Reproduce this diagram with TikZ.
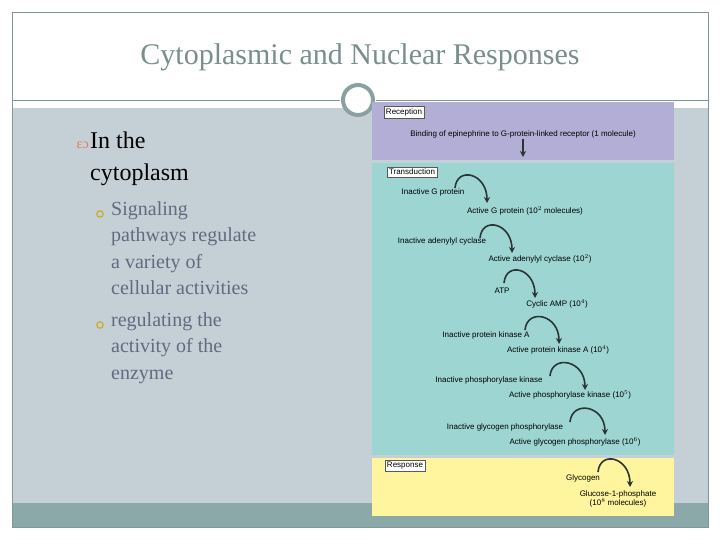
\documentclass[tikz,border=0pt]{standalone}
\usepackage{fontspec}
\setmainfont{Liberation Serif}
\newfontfamily\panelfont{Liberation Sans}
\usetikzlibrary{arrows.meta}
\usetikzlibrary{calc}
\definecolor{slidebg}{HTML}{C5D0D6}
\definecolor{bandc}{HTML}{8BA9A9}
\definecolor{framec}{HTML}{7E9797}
\definecolor{titlec}{HTML}{7B8E8E}
\definecolor{recc}{HTML}{B3AED6}
\definecolor{tranc}{HTML}{9DD5D3}
\definecolor{respc}{HTML}{FFF59E}
\definecolor{subc}{HTML}{5F6B80}
\definecolor{bulc}{HTML}{C8B030}
\definecolor{arrc}{HTML}{2A3535}
\begin{document}
\begin{tikzpicture}[x=1pt,y=-1pt,
  lbl/.style={font=\panelfont\fontsize{8}{9}\selectfont, inner sep=1pt},
  stage/.style={lbl, draw=gray!70!black, fill=white, inner sep=2pt},
  turn/.style={arrc, line width=1.6pt, -{Stealth[length=6pt,width=6pt]}},
  sub/.style={anchor=north west, align=left, text=subc, font=\fontsize{20}{26.5}\selectfont, inner sep=0pt}]
  \useasboundingbox (0,0) rectangle (720,540);
  % slide
  \fill[white] (0,0) rectangle (720,540);
  \fill[slidebg] (12,108) rectangle (708,503);
  \fill[bandc] (12,503) rectangle (708,527);
  \draw[framec] (12,12) rectangle (708,527);
  \draw[framec] (12,100) -- (340,100);
  \draw[framec] (376,100) -- (708,100);
  \draw[framec!90, line width=4pt, fill=white] (358,100) circle (15);
  \node[text=titlec, font=\fontsize{30}{34}\selectfont] (title) at (360,57) {Cytoplasmic and Nuclear Responses};
  % left text
  \node[anchor=north west, align=left, font=\fontsize{24}{32}\selectfont, inner sep=0pt] (main) at (90,132) {In the\\cytoplasm};
  \node[anchor=east, text=red!55!brown!70, font=\fontsize{14}{14}\selectfont, inner sep=1pt] (mb) at (main.north west) [yshift=-13pt] {ɛɔ};
  \node[sub] (s1) at (111,201) {Signaling\\pathways regulate\\a variety of\\cellular activities};
  \node[sub] (s2) at (111,312) {regulating the\\activity of the\\enzyme};
  \draw[bulc, line width=1.3pt] (100,214) circle (3.2);
  \draw[bulc, line width=1.3pt] (100,325) circle (3.2);
  % panel
  \fill[recc] (372,102) rectangle (674,160);
  \fill[tranc] (372,163) rectangle (674,455);
  \fill[respc] (372,458) rectangle (674,516);
  \node[stage] (rec) at (404,112) {Reception};
  \node[stage] (tra) at (412,172) {Transduction};
  \node[stage] (res) at (405,466) {Response};
  \node[lbl] (bind) at (523,134) {Binding of epinephrine to G-protein-linked receptor (1 molecule)};
  \coordinate (bindend) at (523,157);
  \draw[turn] (bind.south) -- (bindend);
  \node[lbl] (i1) at (433,192) {Inactive G protein};
  \node[lbl] (a1) at (525,211) {Active G protein (10$^2$ molecules)};
  \node[lbl] (i2) at (442,241) {Inactive adenylyl cyclase};
  \node[lbl] (a2) at (540,259) {Active adenylyl cyclase (10$^2$)};
  \node[lbl] (i3) at (502,291) {ATP};
  \node[lbl] (a3) at (557,304) {Cyclic AMP (10$^4$)};
  \node[lbl] (i4) at (486,335) {Inactive protein kinase A};
  \node[lbl] (a4) at (558,350) {Active protein kinase A (10$^4$)};
  \node[lbl] (i5) at (489,380) {Inactive phosphorylase kinase};
  \node[lbl] (a5) at (570,395) {Active phosphorylase kinase (10$^5$)};
  \node[lbl] (i6) at (505,427) {Inactive glycogen phosphorylase};
  \node[lbl] (a6) at (575,442) {Active glycogen phosphorylase (10$^6$)};
  \node[lbl] (i7) at (583,478) {Glycogen};
  \node[lbl, align=center] (a7) at (618,499) {Glucose-1-phosphate\\(10$^8$ molecules)};
  % turning arrows
  \coordinate (t1s) at (455,188); \coordinate (t1e) at (487,203);
  \coordinate (t2s) at (480,238); \coordinate (t2e) at (512,253);
  \coordinate (t3s) at (504,283); \coordinate (t3e) at (535,298);
  \coordinate (t4s) at (525,330); \coordinate (t4e) at (559,344);
  \coordinate (t5s) at (550,376); \coordinate (t5e) at (585,390);
  \coordinate (t6s) at (570,422); \coordinate (t6e) at (605,435);
  \coordinate (t7s) at (598,472); \coordinate (t7e) at (630,487);
  \foreach \k in {1,...,7}{
    \draw[turn] (t\k s) .. controls ($(t\k s)+(2,-22)$) and ($(t\k e)+(0,-30)$) .. (t\k e);
  }
\end{tikzpicture}
\end{document}
